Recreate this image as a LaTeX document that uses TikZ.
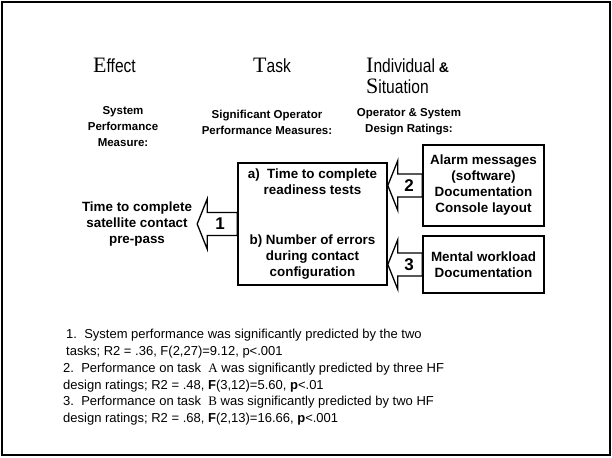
\documentclass[tikz,border=0pt]{standalone}
\usepackage{fontspec}
\setmainfont{Liberation Sans}
\newfontfamily\serifcap{Liberation Serif}
\usetikzlibrary{calc, math}

\newcommand{\headword}[2]{{\serifcap\fontsize{22}{22}\selectfont #1}{\fontsize{19}{19}\selectfont\scalebox{0.82}[1]{#2}}}

\tikzset{
  box/.style={draw, line width=1.6pt, align=center, inner sep=0pt,
    font=\fontsize{13.4}{16}\selectfont\bfseries},
  plain/.style={align=center, inner xsep=5pt, font=\fontsize{13.4}{16}\selectfont\bfseries},
  head/.style={align=center, font=\fontsize{11.5}{16}\selectfont\bfseries},
  title/.style={anchor=base west, inner sep=0pt},
  note/.style={anchor=base west, align=left, inner sep=0pt,
    font=\fontsize{13}{16.5}\selectfont},
  blockarr/.style={draw, fill=white, line width=1.3pt, line join=miter},
  num/.style={inner sep=0pt, font=\fontsize{17}{17}\selectfont\bfseries}
}

\begin{document}
\begin{tikzpicture}[x=1pt, y=-1pt]
\tikzmath{
\hl = 10;
\hh = 25;
\hs = 11.5;
}
\useasboundingbox (0,0) rectangle (612,457);
\draw[line width=2.5pt] (2,2) rectangle (610,455);

% column titles
\node[title] (effect) at (93,73) {\headword{E}{ffect}};
\node[title] (tasktitle) at (253,73) {\headword{T}{ask}};
\node[title] (indiv) at (366,73) {\headword{I}{ndividual}{\fontsize{14}{14}\selectfont\bfseries\ \&}};
\node[title] (situ) at (366,94) {\headword{S}{ituation}};

\node[head] (syshead) at (123,127) {System\\Performance\\Measure:};
\node[head] (taskhead) at (267,122) {Significant Operator\\Performance Measures:};
\node[head] (ratehead) at (409,122) {Operator \& System\\Design Ratings:};

% boxes
\node[plain] (perf) at (137,224) {Time to complete\\satellite contact\\pre-pass};
\node[box, minimum width=149pt, minimum height=122pt] (task) at (312.5,224)
  {a)\ \ Time to complete\\readiness tests\\[34pt]b) Number of errors\\during contact\\configuration};
\node[box, minimum width=121pt, minimum height=81pt] (alarm) at (483.5,185.5)
  {Alarm messages\\(software)\\Documentation\\Console layout};
\node[box, minimum width=121pt, minimum height=57pt] (mental) at (483.5,264.5)
  {Mental workload\\Documentation};

% block arrows
\draw[blockarr] let \p1 = (perf.east), \p2 = (task.west) in
  (\x1,\y2) -- (\x1+\hl pt,\y2+\hh pt) -- (\x1+\hl pt,\y2+\hs pt) -- (\x2,\y2+\hs pt)
  -- (\x2,\y2-\hs pt) -- (\x1+\hl pt,\y2-\hs pt) -- (\x1+\hl pt,\y2-\hh pt) -- cycle;
\node[num] (one) at ($(perf.east)!0.5!(task.west)+(3,0)$) {1};

\draw[blockarr] let \p1 = (task.east), \p2 = (alarm.west) in
  (\x1,\y2) -- (\x1+\hl pt,\y2+\hh pt) -- (\x1+\hl pt,\y2+\hs pt) -- (\x2,\y2+\hs pt)
  -- (\x2,\y2-\hs pt) -- (\x1+\hl pt,\y2-\hs pt) -- (\x1+\hl pt,\y2-\hh pt) -- cycle;
\node[num] (two) at ($(task.east|-alarm.west)!0.5!(alarm.west)+(4,0)$) {2};

\draw[blockarr] let \p1 = (task.east), \p2 = (mental.west) in
  (\x1,\y2) -- (\x1+\hl pt,\y2+\hh pt) -- (\x1+\hl pt,\y2+\hs pt) -- (\x2,\y2+\hs pt)
  -- (\x2,\y2-\hs pt) -- (\x1+\hl pt,\y2-\hs pt) -- (\x1+\hl pt,\y2-\hh pt) -- cycle;
\node[num] (three) at ($(task.east|-mental.west)!0.5!(mental.west)+(4,0)$) {3};

% notes
\node[note] (n1) at (66,355) {1.\ \ System performance was significantly predicted by the two\\tasks; R2 = .36, F(2,27)=9.12, p<.001};
\node[note] (n2) at (63,389) {2.\ \ Performance on task \ {\serifcap A} was significantly predicted by three HF\\design ratings; R2 = .48, \textbf{F}(3,12)=5.60, \textbf{p}<.01};
\node[note] (n3) at (63,422) {3.\ \ Performance on task \ {\serifcap B} was significantly predicted by two HF\\design ratings; R2 = .68, \textbf{F}(2,13)=16.66, \textbf{p}<.001};

\end{tikzpicture}
\end{document}
